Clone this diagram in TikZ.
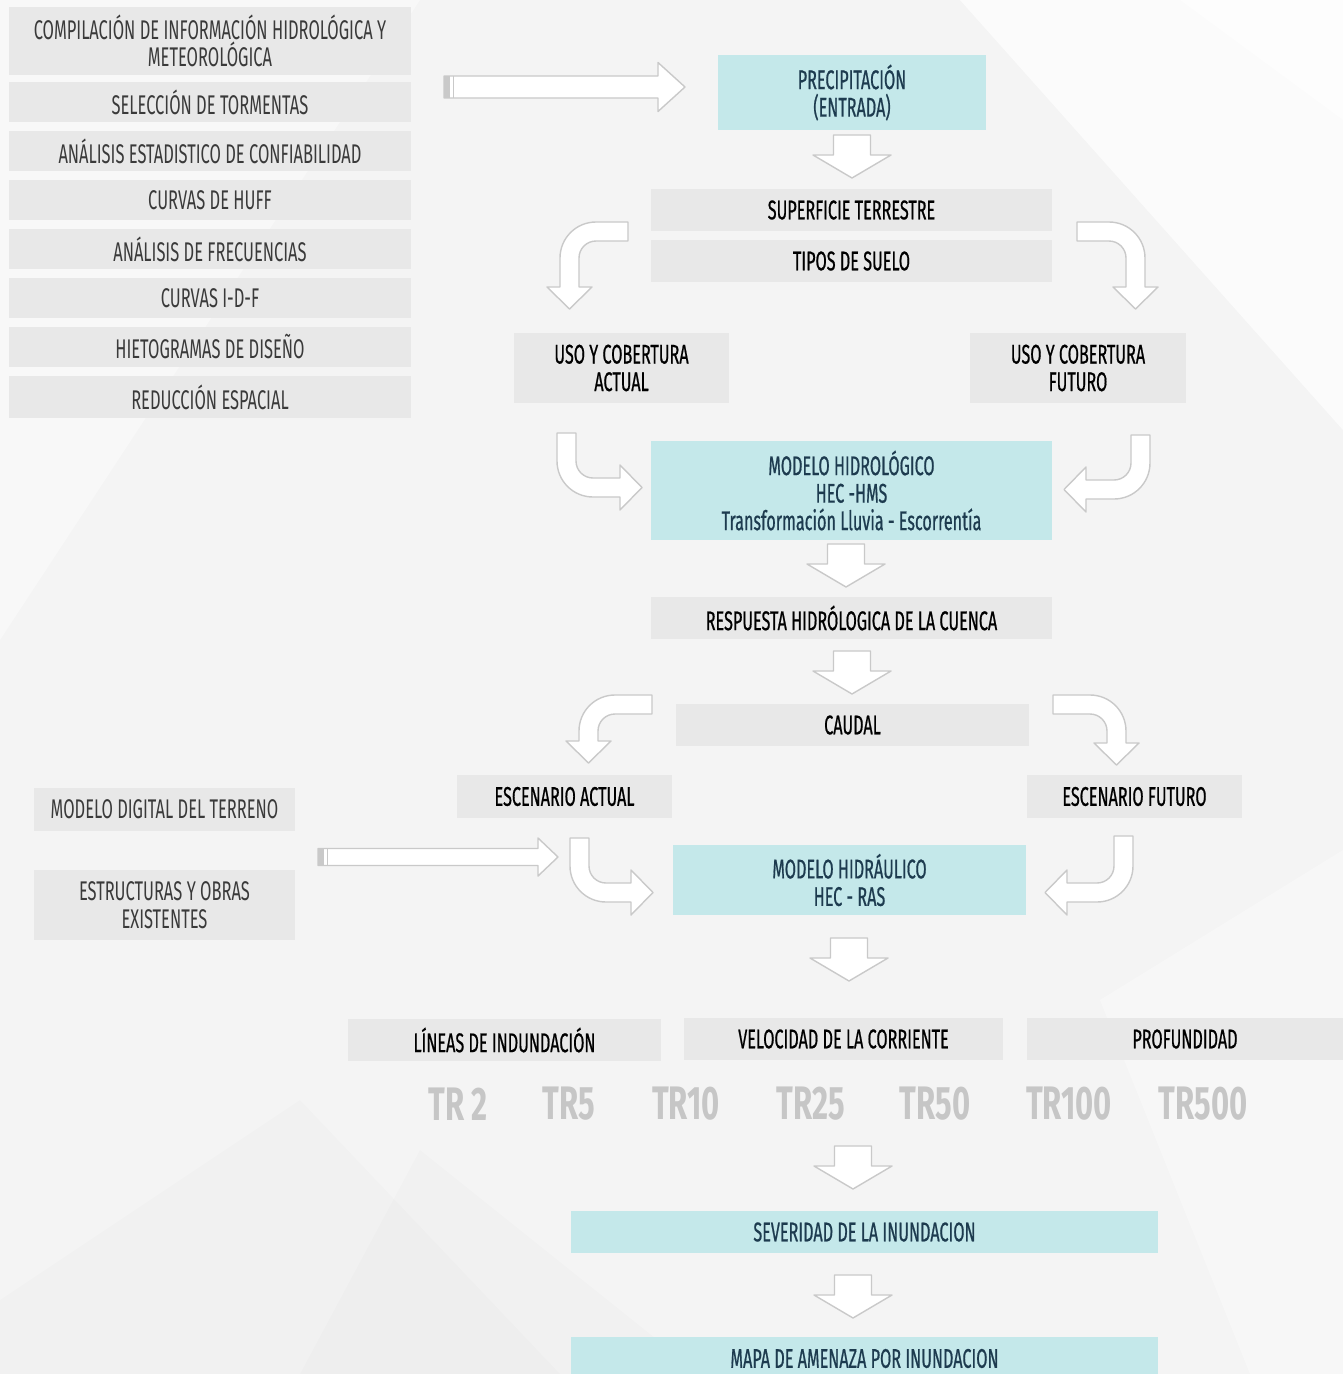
\documentclass[tikz,border=0pt]{standalone}
\usepackage{fontspec}
\setmainfont{Fira Sans}[FakeStretch=0.61]
\newfontfamily\medf{Fira Sans}[FakeStretch=0.6, FakeBold=0.6]
\newfontfamily\trfont{Fira Sans}[FakeStretch=0.66]
\definecolor{bg}{HTML}{F4F4F4}
\definecolor{boxgray}{HTML}{E8E8E8}
\definecolor{cyanbox}{HTML}{C4E8EA}
\definecolor{navy}{HTML}{1D3B4F}
\definecolor{ltext}{HTML}{3A3A3A}
\definecolor{arrgray}{HTML}{C9C9C9}
\definecolor{trgray}{HTML}{C6C6C6}
\newcommand\dnarr[2]{%
  \draw[blockarr] ({#1-18.5},#2) -- ({#1+18.5},#2) -- ({#1+18.5},{#2+20}) -- ({#1+39},{#2+20})
    -- (#1,{#2+43}) -- ({#1-39},{#2+20}) -- ({#1-18.5},{#2+20}) -- cycle;}
% x0 start, xh head start, xt tip, yc centre, hs shaft half, hh head half
\newcommand\rtarr[6]{%
  \draw[blockarr] (#1,{#4-#5}) -- (#2,{#4-#5}) -- (#2,{#4-#6}) -- (#3,#4) -- (#2,{#4+#6})
    -- (#2,{#4+#5}) -- (#1,{#4+#5}) -- cycle;
  \fill[arrgray] (#1,{#4-#5}) rectangle ({#1+6},{#4+#5});
  \draw[arrgray, line width=1pt] ({#1+9},{#4-#5}) -- ({#1+9},{#4+#5});}
\newcommand\bentarr[2]{%
  \draw[blockarr] (0,0) -- ({-#1+36},0) .. controls ({-#1+16.1},0) and ({-#1},16.1) .. ({-#1},36)
    -- ({-#1},{#2-22}) -- ({-#1-13},{#2-22}) -- ({-#1+9.5},#2) -- ({-#1+32},{#2-22})
    -- ({-#1+19},{#2-22}) -- ({-#1+19},36) .. controls ({-#1+19},26.6) and ({-#1+26.6},19) .. ({-#1+36},19)
    -- (0,19) -- cycle;}
\begin{document}
\begin{tikzpicture}[x=1pt,y=-1pt,
  every node/.style={inner sep=0pt, align=center, font=\fontsize{27}{27.5}\selectfont},
  lbox/.style={fill=boxgray, text=ltext},
  gbox/.style={fill=boxgray, text=black, font=\medf\fontsize{27}{27.5}\selectfont},
  cbox/.style={fill=cyanbox, text=navy, font=\medf\fontsize{27}{27.5}\selectfont},
  sz/.style 2 args={minimum width=#1, minimum height=#2},
  blockarr/.style={draw=arrgray, fill=white, line width=1.4pt, line join=round},
  trlab/.style={text=trgray, font=\trfont\bfseries\fontsize{47}{47}\selectfont}]
\useasboundingbox (0,0) rectangle (1343,1374);
\clip (0,0) rectangle (1343,1374);
\fill[bg] (0,0) rectangle (1343,1374);
% faint background facets
\fill[white, opacity=0.7] (960,0) -- (1343,0) -- (1343,430) -- cycle;
\fill[white, opacity=0.5] (1180,0) -- (1343,0) -- (1343,120) -- cycle;
\fill[white, opacity=0.4] (0,0) -- (420,0) -- (0,640) -- cycle;
\fill[black, opacity=0.012] (0,1300) -- (300,1100) -- (560,1374) -- (0,1374) -- cycle;
\fill[black, opacity=0.01] (420,1150) -- (700,1374) -- (300,1374) -- cycle;
\fill[white, opacity=0.3] (1100,1000) -- (1343,850) -- (1343,1374) -- (1250,1374) -- cycle;

% left column
\node[lbox, sz={402}{68}] (comp) at (210,41) {COMPILACIÓN DE INFORMACIÓN HIDROLÓGICA Y\\METEOROLÓGICA};
\node[lbox, sz={402}{40}] (selec) at (210,102) {SELECCIÓN DE TORMENTAS};
\node[lbox, sz={402}{40}] (anal) at (210,151) {ANÁLISIS ESTADISTICO DE CONFIABILIDAD};
\node[lbox, sz={402}{40}] (huff) at (210,200) {CURVAS DE HUFF};
\node[lbox, sz={402}{40}] (frec) at (210,249) {ANÁLISIS DE FRECUENCIAS};
\node[lbox, sz={402}{40}] (idf) at (210,298) {CURVAS I-D-F};
\node[lbox, sz={402}{40}] (hiet) at (210,347) {HIETOGRAMAS DE DISEÑO};
\node[lbox, sz={402}{42}] (red) at (210,397) {REDUCCIÓN ESPACIAL};

% main flow
\node[cbox, sz={268}{75}] (prec) at (852,92.5) {PRECIPITACIÓN\\(ENTRADA)};
\node[gbox, sz={401}{42}] (sup) at (851.5,210) {SUPERFICIE TERRESTRE};
\node[gbox, sz={401}{42}] (tipos) at (851.5,261) {TIPOS DE SUELO};
\node[gbox, sz={215}{70}] (usoA) at (621.5,368) {USO Y COBERTURA\\ACTUAL};
\node[gbox, sz={216}{70}] (usoF) at (1078,368) {USO Y COBERTURA\\FUTURO};
\node[cbox, sz={401}{99}] (hms) at (851.5,490.5) {MODELO HIDROLÓGICO\\HEC -HMS\\Transformación Lluvia - Escorrentía};
\node[gbox, sz={401}{42}] (resp) at (851.5,618) {RESPUESTA HIDRÓLOGICA DE LA CUENCA};
\node[gbox, sz={353}{42}] (caudal) at (852.5,725) {CAUDAL};
\node[gbox, sz={215}{43}] (escA) at (564.5,796.5) {ESCENARIO ACTUAL};
\node[gbox, sz={215}{43}] (escF) at (1134.5,796.5) {ESCENARIO FUTURO};
\node[lbox, sz={261}{43}] (mdt) at (164.5,809.5) {MODELO DIGITAL DEL TERRENO};
\node[lbox, sz={261}{70}] (estr) at (164.5,905) {ESTRUCTURAS Y OBRAS\\EXISTENTES};
\node[cbox, sz={353}{70}] (ras) at (849.5,880) {MODELO HIDRÁULICO\\HEC - RAS};
\node[gbox, sz={313}{42}] (lin) at (504.5,1040) {LÍNEAS DE INDUNDACIÓN};
\node[gbox, sz={319}{42}] (vel) at (843.5,1039) {VELOCIDAD DE LA CORRIENTE};
\node[gbox, sz={316}{42}] (prof) at (1185,1039) {PROFUNDIDAD};
\node[trlab] (tr2) at (458,1104) {TR 2};
\node[trlab] (tr5) at (569,1104) {TR5};
\node[trlab] (tr10) at (686,1104) {TR10};
\node[trlab] (tr25) at (811,1104) {TR25};
\node[trlab] (tr50) at (935,1104) {TR50};
\node[trlab] (tr100) at (1069,1104) {TR100};
\node[trlab] (tr500) at (1203,1104) {TR500};
\node[cbox, sz={587}{42}] (sev) at (864.5,1232) {SEVERIDAD DE LA INUNDACION};
\node[cbox, sz={587}{43}] (mapa) at (864.5,1358.5) {MAPA DE AMENAZA POR INUNDACION};

% straight arrows
\rtarr{444}{658}{685}{87}{11}{24.5}
\rtarr{318}{538}{558}{857}{8.5}{19}
% down arrows
\dnarr{852}{135}
\dnarr{846}{544}
\dnarr{852}{651}
\dnarr{849}{938}
\dnarr{853}{1146}
\dnarr{853}{1275}
% bent arrows: horizontal then down
\begin{scope}[shift={(628,222)}]\bentarr{68}{87}\end{scope}
\begin{scope}[shift={(1077,222)}, xscale=-1]\bentarr{68}{87}\end{scope}
\begin{scope}[shift={(652,695)}]\bentarr{73}{68}\end{scope}
\begin{scope}[shift={(1053,695)}, xscale=-1]\bentarr{73}{70}\end{scope}
% bent arrows: down then sideways
\begin{scope}[shift={(557,433)}, rotate=90]\bentarr{64}{85}\end{scope}
\begin{scope}[shift={(1150,435)}, xscale=-1, rotate=90]\bentarr{64}{86}\end{scope}
\begin{scope}[shift={(570,838)}, rotate=90]\bentarr{64}{83}\end{scope}
\begin{scope}[shift={(1133,836)}, xscale=-1, rotate=90]\bentarr{66}{88}\end{scope}
\end{tikzpicture}
\end{document}
